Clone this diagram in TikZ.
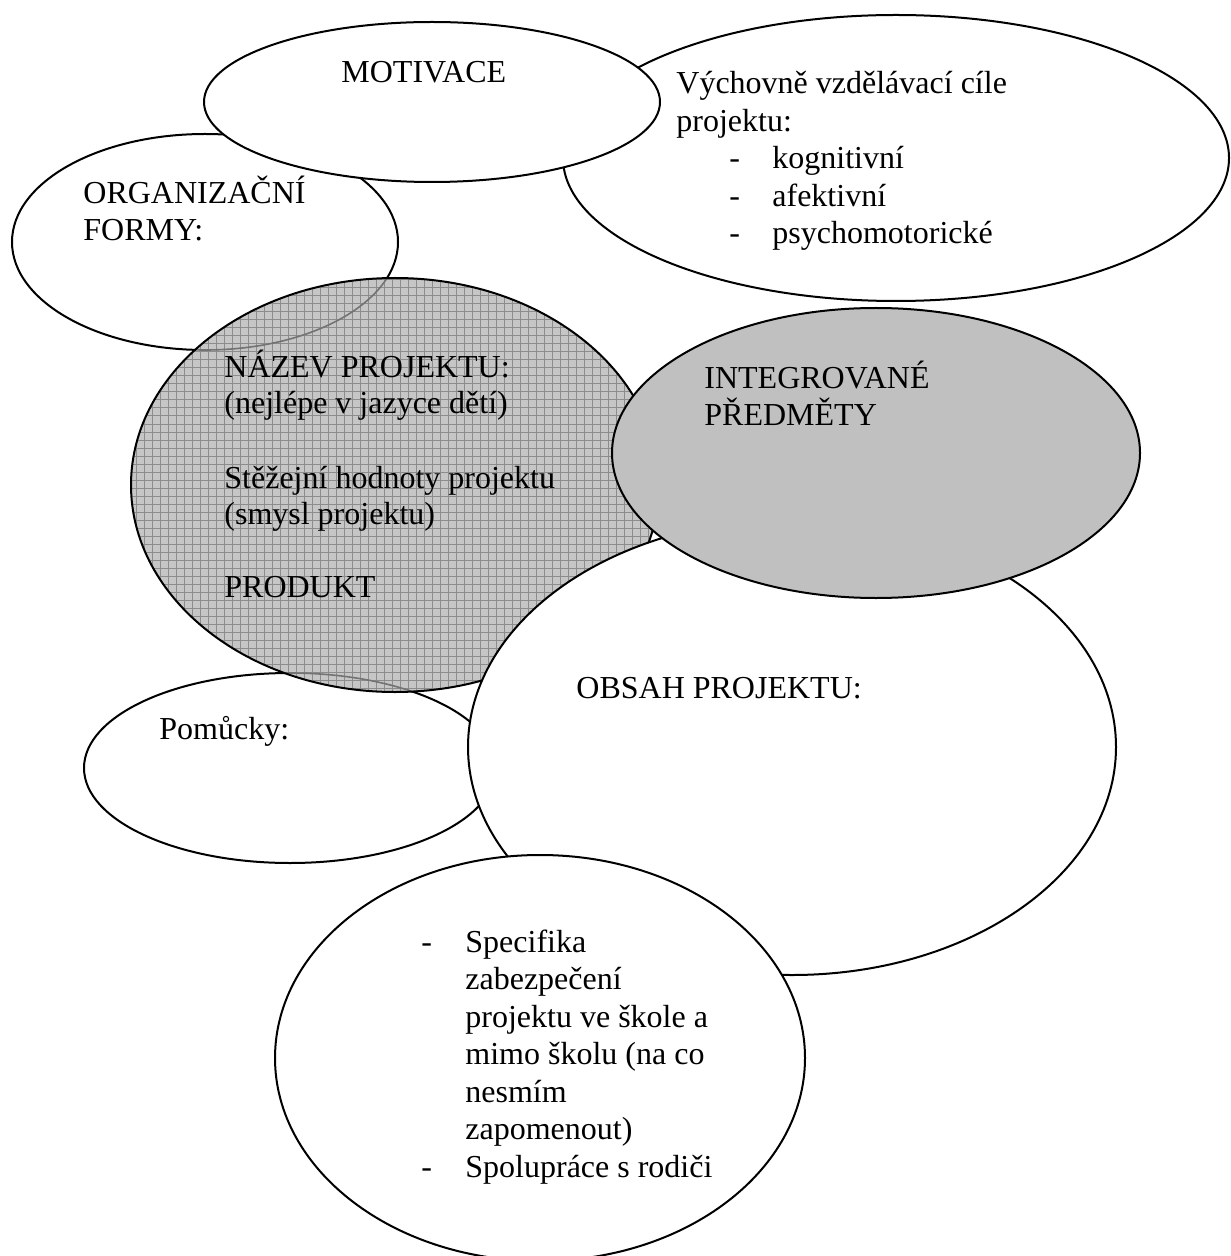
\documentclass[tikz,border=0pt]{standalone}
\usepackage{fontspec}
\setmainfont{Liberation Serif}
\definecolor{patbg}{RGB}{198,198,198}
\definecolor{patln}{RGB}{140,140,140}
\definecolor{silvergray}{RGB}{192,192,192}
\newcommand\fs{\fontsize{16pt}{18.75pt}\selectfont}
\begin{document}
\begin{tikzpicture}[x=0.5pt,y=-0.5pt,
  bubble/.style={draw=black,line width=1pt,fill=white},
  txt/.style={anchor=base west,inner sep=0pt,font=\fs}]
\useasboundingbox (0,0) rectangle (1230,1256);
\clip (0,0) rectangle (1230,1256);
% Vychovne vzdelavaci cile
\path[bubble] (896,158) ellipse [x radius=166.5pt, y radius=71.5pt];
% Organizacni formy
\path[bubble] (205,242) ellipse [x radius=96.5pt, y radius=54pt];
% Motivace
\path[bubble] (432,102) ellipse [x radius=114pt, y radius=40pt];
% Pomucky
\path[bubble] (290,768) ellipse [x radius=103pt, y radius=47.5pt];
% Nazev projektu (patterned)
\fill[patbg] (395,485) ellipse [x radius=132pt, y radius=103.5pt];
\begin{scope}
  \clip (395,485) ellipse [x radius=132pt, y radius=103.5pt];
  \draw[patln, line width=0.5pt, step=4pt] (120,700) grid (670,270);
  \draw[black!55, line width=0.8pt] (205,242) ellipse [x radius=96.5pt, y radius=54pt];
  \draw[black!55, line width=0.8pt] (290,768) ellipse [x radius=103pt, y radius=47.5pt];
\end{scope}
\draw[line width=1pt] (395,485) ellipse [x radius=132pt, y radius=103.5pt];
% Obsah projektu
\path[bubble] (792,747) ellipse [x radius=162pt, y radius=114pt];
% Integrovane predmety
\path[bubble, fill=silvergray] (876,453) ellipse [x radius=132pt, y radius=72.5pt];
% Specifika
\path[bubble] (540,1058) ellipse [x radius=132.5pt, y radius=101.5pt];

% texts
\node[txt] (mot) at (341,83) {MOTIVACE};

\node[txt] (vy1) at (676,94) {Výchovně vzdělávací cíle};
\node[txt] (vy2) at (676,131.5) {projektu:};
\node[txt] (vyd1) at (729,169) {-};
\node[txt] (vy3) at (772,169) {kognitivní};
\node[txt] (vyd2) at (729,206.5) {-};
\node[txt] (vy4) at (772,206.5) {afektivní};
\node[txt] (vyd3) at (729,244) {-};
\node[txt] (vy5) at (772,244) {psychomotorické};

\node[txt] (org1) at (83,203.5) {ORGANIZAČNÍ};
\node[txt] (org2) at (83,240.5) {FORMY:};

\node[txt] (naz1) at (224,377.5) {NÁZEV PROJEKTU:};
\node[txt] (naz2) at (224,414) {(nejlépe v jazyce dětí)};
\node[txt] (naz3) at (224,488) {Stěžejní hodnoty projektu};
\node[txt] (naz4) at (224,524.5) {(smysl projektu)};
\node[txt] (naz5) at (224,597) {PRODUKT};

\node[txt] (int1) at (704,388.5) {INTEGROVANÉ};
\node[txt] (int2) at (704,425.5) {PŘEDMĚTY};

\node[txt] (obs) at (576,698.5) {OBSAH PROJEKTU:};

\node[txt] (pom) at (159,739) {Pomůcky:};

\node[txt] (spd1) at (421,952) {-};
\node[txt] (sp1) at (465,952) {Specifika};
\node[txt] (sp2) at (465,989.5) {zabezpečení};
\node[txt] (sp3) at (465,1027) {projektu ve škole a};
\node[txt] (sp4) at (465,1064.5) {mimo školu (na co};
\node[txt] (sp5) at (465,1102) {nesmím};
\node[txt] (sp6) at (465,1139.5) {zapomenout)};
\node[txt] (spd2) at (421,1177) {-};
\node[txt] (sp7) at (465,1177) {Spolupráce s rodiči};
\end{tikzpicture}
\end{document}
